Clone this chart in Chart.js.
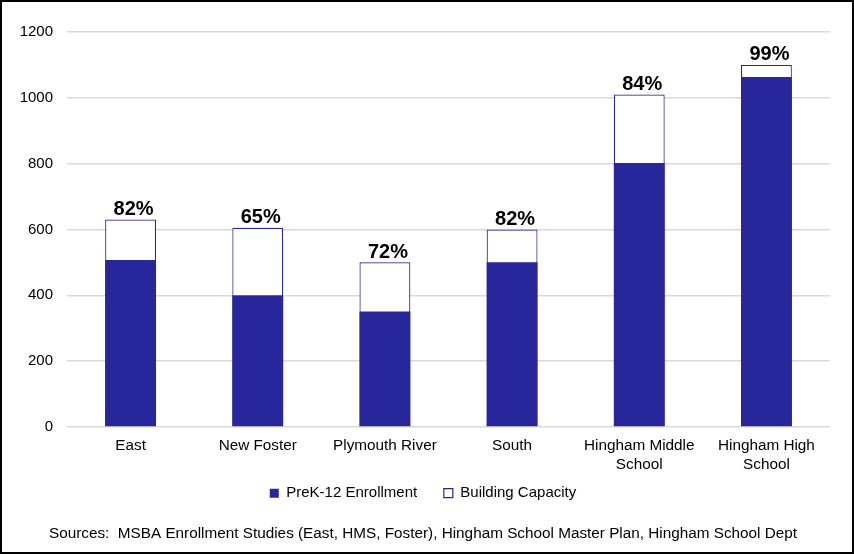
<!DOCTYPE html>
<html>
<head>
<meta charset="utf-8">
<script src="https://cdn.jsdelivr.net/npm/chart.js@4.4.1/dist/chart.umd.min.js"></script>
<style>
  html, body { margin: 0; padding: 0; background: #fff; }
  #wrap { width: 854px; height: 554px; box-sizing: border-box; border: 2px solid #000; position: relative; }
  #schoolChart { display: block; }
</style>
</head>
<body>
<div id="wrap"><canvas id="schoolChart"></canvas></div>
<script>
const schools = ['East', 'New Foster', 'Plymouth River', 'South', ['Hingham Middle', 'School'], ['Hingham High', 'School']]
const enrollment = [507, 400, 351, 500, 802, 1063]
const capacity = [630, 605, 500, 600, 1010, 1100]
const pctLabels = ['82%', '65%', '72%', '82%', '84%', '99%']

const navy = '#27269a'
const fontFam = '"Liberation Sans", Arial, sans-serif'

// puts the % figure above each capacity bar
const pctPlugin = {
    id: 'pctLabels',
    afterDatasetsDraw(chart) {
        const ctx = chart.ctx
        const meta = chart.getDatasetMeta(1)
        ctx.save()
        ctx.font = 'bold 20px ' + fontFam
        ctx.fillStyle = '#000'
        ctx.textAlign = 'center'
        ctx.textBaseline = 'bottom'
        meta.data.forEach((bar, i) => {
            ctx.fillText(pctLabels[i], bar.x + 3, bar.y)
        })
        ctx.restore()
    }
}

const ctx1 = document.getElementById('schoolChart').getContext('2d')
let chart1 = new Chart(ctx1, {
    type: 'bar',
    data: {
        labels: schools,
        datasets: [{
            label: 'PreK-12 Enrollment',
            data: enrollment,
            backgroundColor: navy,
            borderColor: navy,
            borderWidth: 0,
            grouped: false,
            barPercentage: 0.4,
            categoryPercentage: 1
        }, {
            label: 'Building Capacity',
            data: capacity,
            backgroundColor: '#fff',
            borderColor: navy,
            borderWidth: 1.2,
            grouped: false,
            barPercentage: 0.4,
            categoryPercentage: 1
        }]
    },
    options: {
        responsive: true,
        maintainAspectRatio: false,
        animation: false,
        layout: { padding: { top: 30, left: 14, right: 22, bottom: 5 } },
        plugins: {
            legend: {
                position: 'bottom',
                labels: {
                    color: '#000',
                    font: { family: fontFam, size: 15 },
                    boxWidth: 9,
                    boxHeight: 9,
                    padding: 10,
                    // wider gap between the two legend items, like the original
                    generateLabels: chart => {
                        const items = Chart.defaults.plugins.legend.labels.generateLabels(chart)
                        items[0].text = items[0].text + '\u00a0\u00a0\u00a0\u00a0'
                        return items
                    }
                }
            },
            title: {
                display: true,
                position: 'bottom',
                text: 'Sources:  MSBA Enrollment Studies (East, HMS, Foster), Hingham School Master Plan, Hingham School Dept',
                color: '#000',
                font: { family: fontFam, size: 15.3, weight: 'normal' },
                padding: { top: 14, bottom: 4 }
            },
            tooltip: { enabled: false }
        },
        scales: {
            x: {
                grid: { display: false },
                border: { display: false },
                ticks: {
                    color: '#000',
                    font: { family: fontFam, size: 15.3 },
                    maxRotation: 0,
                    autoSkip: false,
                    padding: 2
                }
            },
            y: {
                min: 0,
                max: 1200,
                afterFit: scale => { scale.width = 51 },
                ticks: {
                    stepSize: 200,
                    color: '#000',
                    font: { family: fontFam, size: 15 },
                    padding: 14,
                    callback: v => String(v)
                },
                grid: { color: '#d9d9d9', lineWidth: 1.5, drawTicks: false },
                border: { display: false }
            }
        }
    },
    plugins: [pctPlugin]
})
</script>
</body>
</html>
